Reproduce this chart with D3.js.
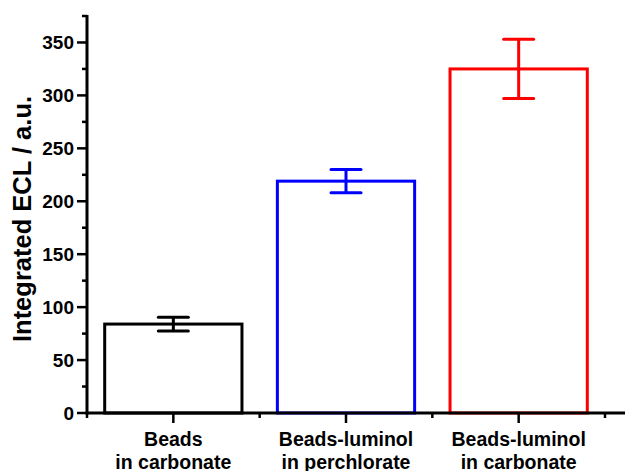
<!DOCTYPE html>
<html>
<head>
<meta charset="utf-8">
<script src="https://cdn.jsdelivr.net/npm/d3@7"></script>
<style>
  html, body { margin: 0; padding: 0; background: #fff; }
  svg text { font-family: "Liberation Sans", Arial, sans-serif; font-weight: bold; fill: #000; }
</style>
</head>
<body>
<svg id="chart" width="625" height="471"></svg>
<script>
// Bars: mean integrated ECL with error bar half-widths
const categories = ['Beads|in carbonate', 'Beads-luminol|in perchlorate', 'Beads-luminol|in carbonate'];
const values = [84, 219, 325];
const errors = [6.5, 11, 28];
const colors = ['#000000', '#0000ff', '#ff0000'];
const yTicks = [0, 50, 100, 150, 200, 250, 300, 350];
const yMinor = [25, 75, 125, 175, 225, 275, 325, 375];

const svg = d3.select('#chart');
const x0 = 87, y0 = 413;

const x = d3.scaleLinear().domain([0.5, 3.5]).range([x0, 605]);
const y = d3.scaleLinear().domain([0, 375]).range([y0, 16]);
const step = x(2) - x(1);
const barW = step * 0.795;

// bars
const g = svg.append('g');
values.forEach((v, i) => {
  const cx = x(i + 1);
  g.append('rect')
    .attr('x', cx - barW / 2).attr('y', y(v))
    .attr('width', barW).attr('height', y0 - y(v))
    .attr('fill', 'none').attr('stroke', colors[i]).attr('stroke-width', 3);

  // error bar
  const e = errors[i];
  g.append('line')
    .attr('x1', cx).attr('x2', cx)
    .attr('y1', y(v + e)).attr('y2', y(v - e))
    .attr('stroke', colors[i]).attr('stroke-width', 3);
  [v + e, v - e].forEach(t => {
    g.append('line')
      .attr('x1', cx - 15).attr('x2', cx + 15)
      .attr('y1', y(t)).attr('y2', y(t))
      .attr('stroke', colors[i]).attr('stroke-width', 3)
      .attr('stroke-linecap', 'round');
  });
});

// y axis
const yAxis = svg.append('g');
yAxis.append('line')
  .attr('x1', x0).attr('x2', x0).attr('y1', y(375) - 1).attr('y2', y0 + 1.5)
  .attr('stroke', '#000').attr('stroke-width', 3);
yTicks.forEach(t => {
  yAxis.append('line')
    .attr('x1', x0 - 10).attr('x2', x0).attr('y1', y(t)).attr('y2', y(t))
    .attr('stroke', '#000').attr('stroke-width', 2.5);
  yAxis.append('text')
    .attr('x', x0 - 13).attr('y', y(t))
    .attr('dy', '0.36em').attr('text-anchor', 'end')
    .attr('font-size', 19).text(t);
});
yMinor.forEach(t => {
  yAxis.append('line')
    .attr('x1', x0 - 5).attr('x2', x0).attr('y1', y(t)).attr('y2', y(t))
    .attr('stroke', '#000').attr('stroke-width', 2.5);
});
svg.append('text')
  .attr('transform', 'translate(31, 219) rotate(-90)')
  .attr('text-anchor', 'middle')
  .attr('font-size', 25.5)
  .text('Integrated ECL / a.u.');

// x axis
const xAxis = svg.append('g');
xAxis.append('line')
  .attr('x1', x0 - 1.5).attr('x2', 625).attr('y1', y0).attr('y2', y0)
  .attr('stroke', '#000').attr('stroke-width', 3);
[1, 2, 3].forEach((c, i) => {
  xAxis.append('line')
    .attr('x1', x(c)).attr('x2', x(c)).attr('y1', y0).attr('y2', y0 + 10)
    .attr('stroke', '#000').attr('stroke-width', 2.5);
  const lines = categories[i].split('|');
  lines.forEach((l, k) => {
    xAxis.append('text')
      .attr('x', x(c)).attr('y', 445.5 + k * 23)
      .attr('text-anchor', 'middle')
      .attr('font-size', 19.5).text(l);
  });
});
[0.5, 1.5, 2.5, 3.5].forEach(c => {
  xAxis.append('line')
    .attr('x1', x(c)).attr('x2', x(c)).attr('y1', y0).attr('y2', y0 + 5)
    .attr('stroke', '#000').attr('stroke-width', 2.5);
});
</script>
</body>
</html>
